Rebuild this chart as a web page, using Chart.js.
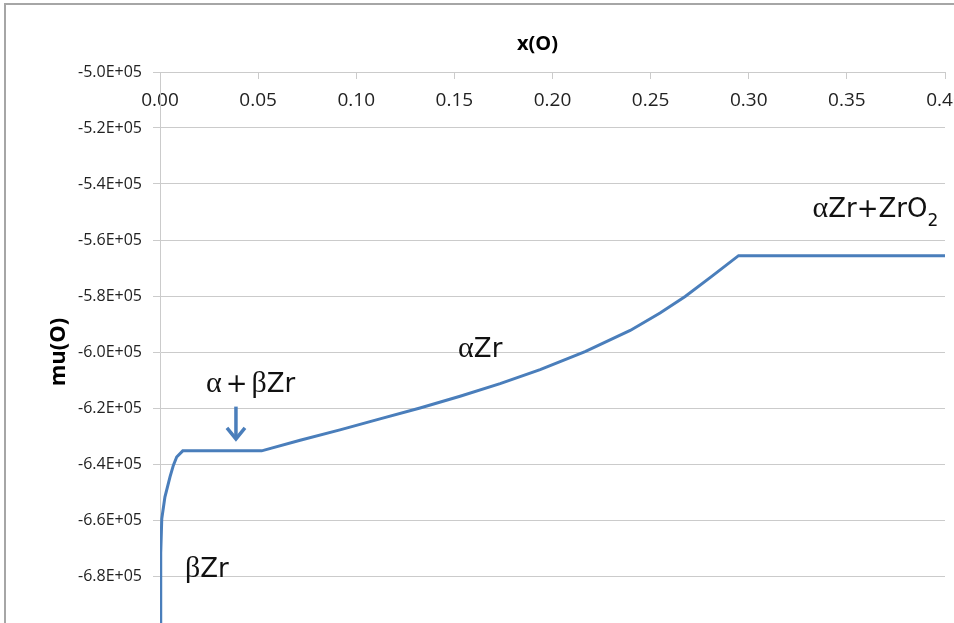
<!DOCTYPE html>
<html>
<head>
<meta charset="utf-8">
<script src="https://cdn.jsdelivr.net/npm/chart.js@4.4.1/dist/chart.umd.min.js"></script>
<style>
  html, body { margin: 0; padding: 0; background: #fff; }
  #wrap { position: relative; width: 954px; height: 623px; overflow: hidden; }
  #frame { position: absolute; left: 4px; top: 3px; right: -10px; bottom: -10px;
           border-left: 2px solid #a6a6a6; border-top: 2px solid #a6a6a6; pointer-events: none; }
  canvas { position: absolute; left: 0; top: 0; }
</style>
</head>
<body>
<div id="wrap">
  <canvas id="muChart" width="1075" height="660"></canvas>
  <div id="frame"></div>
</div>
<script>
// oxygen fraction and chemical potential
const xO = [0.0001, 0.00025, 0.0005, 0.0009, 0.0025, 0.0051, 0.0068, 0.0085, 0.0116,
            0.0518, 0.0714, 0.0917, 0.1121, 0.1325, 0.1529, 0.1733, 0.1937, 0.2166,
            0.2396, 0.2548, 0.2676, 0.2813, 0.2948, 0.40];
const muO = [-712000, -695700, -671800, -659600, -651800, -644600, -640500, -637500, -635300,
             -635300, -631500, -627800, -623900, -620000, -615800, -611300, -606300, -599900,
             -592300, -586100, -580200, -572900, -565600, -565600];

// phase labels, anchored in data units
const notes = [
  { runs: [["α", "g"], ["Zr+ZrO"], ["2", "sub"]], x: 0.3966, y: -551800, align: "right" },
  { runs: [["α", "g"], ["Zr"]], x: 0.1519, y: -601800 },
  { runs: [["α", "g"], ["+", "gap"], ["β", "g"], ["Zr"]], x: 0.0234, y: -614200 },
  { runs: [["β", "g"], ["Zr"]], x: 0.0127, y: -680300 },
];
const arrowX = 0.0387;
const arrowFrom = -619500;
const arrowTo = -631400;

const lineBlue = "#4a7ebb";
const gridGray = "#cbcbcb";

function sci(v) {
  const [m, e] = v.toExponential(1).split("e");
  const n = parseInt(e, 10);
  return m + "E" + (n < 0 ? "-" : "+") + String(Math.abs(n)).padStart(2, "0");
}

function drawRuns(ctx, runs, x, y, align) {
  const parts = runs.map(([t, kind]) => {
    let font = '26px "DejaVu Sans"';
    if (kind === "g") font = '30px "Liberation Serif"';
    if (kind === "sub") font = '17px "DejaVu Sans"';
    ctx.font = font;
    const pad = kind === "gap" ? 4 : 0;
    return { t, font, pad, w: ctx.measureText(t).width + pad * 2, dy: kind === "sub" ? 9 : 0 };
  });
  const total = parts.reduce((s, p) => s + p.w, 0);
  let cx = align === "right" ? x - total : x;
  parts.forEach((p) => {
    ctx.font = p.font;
    ctx.fillText(p.t, cx + p.pad, y + p.dy);
    cx += p.w;
  });
}

const notesPlugin = {
  id: "notes",
  afterDatasetsDraw(chart) {
    const { ctx, scales: { x, y } } = chart;
    ctx.save();
    ctx.fillStyle = "#111";
    ctx.textAlign = "left";
    ctx.textBaseline = "alphabetic";
    notes.forEach((n) => drawRuns(ctx, n.runs, x.getPixelForValue(n.x), y.getPixelForValue(n.y), n.align));

    // arrow pointing at the two-phase plateau
    const ax = x.getPixelForValue(arrowX);
    const y0 = y.getPixelForValue(arrowFrom);
    const y1 = y.getPixelForValue(arrowTo);
    ctx.strokeStyle = lineBlue;
    ctx.lineWidth = 3.5;
    ctx.beginPath();
    ctx.moveTo(ax, y0);
    ctx.lineTo(ax, y1 - 2);
    ctx.stroke();
    ctx.lineJoin = "miter";
    ctx.beginPath();
    ctx.moveTo(ax - 9, y1 - 12);
    ctx.lineTo(ax, y1 - 1);
    ctx.lineTo(ax + 9, y1 - 12);
    ctx.stroke();
    ctx.restore();
  },
};

new Chart(document.getElementById("muChart"), {
  type: "line",
  data: {
    datasets: [
      {
        data: xO.map((v, i) => ({ x: v, y: muO[i] })),
        borderColor: lineBlue,
        borderWidth: 3,
        pointRadius: 0,
        tension: 0,
        fill: false,
      },
    ],
  },
  options: {
    responsive: false,
    animation: false,
    layout: { padding: { left: 40, right: 40, top: 0, bottom: 28 } },
    plugins: {
      legend: { display: false },
      tooltip: { enabled: false },
      title: {
        display: true,
        text: "x(O)",
        color: "#000",
        font: { family: "Open Sans", size: 20, weight: "bold" },
        padding: { top: 32, bottom: 16 },
      },
    },
    scales: {
      x: {
        type: "linear",
        position: { y: -500000 },
        min: 0,
        max: 0.4,
        ticks: {
          stepSize: 0.05,
          color: "#222",
          padding: 11,
          maxRotation: 0,
          font: { family: "Open Sans", size: 19 },
          callback: (v) => v.toFixed(2),
        },
        grid: { drawOnChartArea: false, color: gridGray, tickLength: 6 },
        border: { color: gridGray },
      },
      y: {
        min: -700000,
        max: -500000,
        afterFit(scale) {
          scale.width = 120;
        },
        ticks: {
          stepSize: 20000,
          color: "#222",
          padding: 11,
          font: { family: "Open Sans", size: 16 },
          callback: (v) => sci(v),
        },
        grid: { color: gridGray, tickLength: 7 },
        border: { color: gridGray },
        title: {
          display: true,
          text: "mu(O)",
          color: "#000",
          font: { family: "Open Sans", size: 22, weight: "bold" },
          padding: { top: 6, bottom: 0 },
        },
      },
      // empty right-hand margin so the chart title sits where the original has it
      yPad: {
        position: "right",
        min: 0,
        max: 1,
        afterFit(scale) {
          scale.width = 90;
        },
        ticks: { display: false },
        grid: { display: false },
        border: { display: false },
      },
    },
  },
  plugins: [notesPlugin],
});
</script>
</body>
</html>
